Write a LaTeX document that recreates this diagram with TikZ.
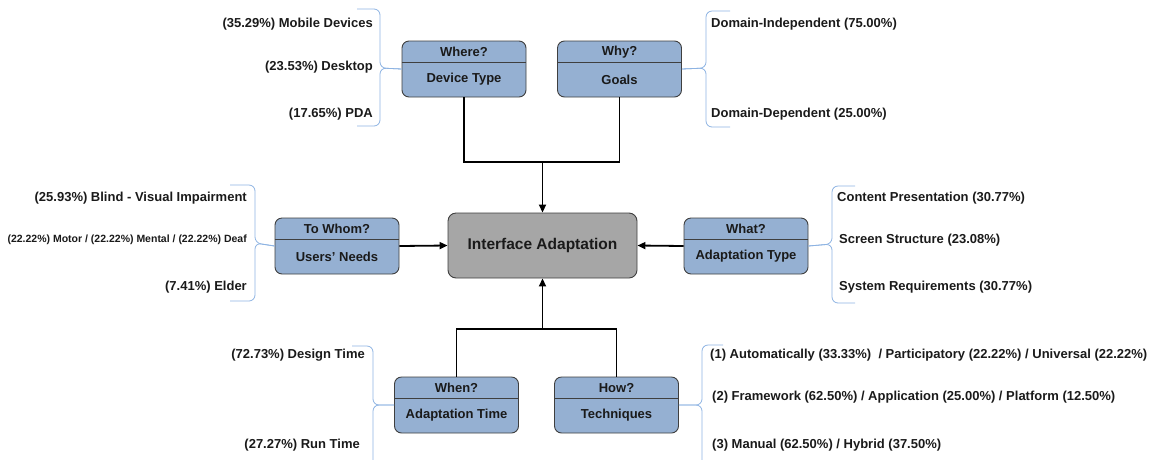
\documentclass[tikz,border=0pt]{standalone}
\usepackage{fontspec}
\setmainfont{Liberation Sans}
\usetikzlibrary{arrows.meta}
\definecolor{boxblue}{HTML}{95B0D2}
\definecolor{boxgray}{HTML}{A6A6A6}
\definecolor{bordergray}{HTML}{3F3F3F}
\definecolor{braceblue}{HTML}{8DB3E2}
\definecolor{txt}{HTML}{1A1A1A}
\tikzset{
  catbox/.style={draw=bordergray, line width=0.9pt, fill=boxblue, rounded corners=7pt,
    minimum width=124pt, minimum height=56pt, inner sep=0pt},
  centerbox/.style={draw=bordergray, line width=0.9pt, fill=boxgray, rounded corners=8pt,
    minimum width=189pt, minimum height=65pt, inner sep=0pt, font=\bfseries\fontsize{15.5}{18}\selectfont, text=txt},
  divider/.style={draw=bordergray, line width=1pt},
  boxtext/.style={font=\bfseries\fontsize{13}{15}\selectfont, text=txt, inner sep=0pt},
  lbl/.style={font=\bfseries\fontsize{13}{15}\selectfont, text=txt, inner sep=0pt},
  smalllbl/.style={font=\bfseries\fontsize{10.5}{12}\selectfont, text=txt, inner sep=0pt},
  conn/.style={draw=black, line width=1.8pt},
  arr/.style={conn, -{Triangle[length=8pt,width=7pt]}},
  bracel/.style={draw=braceblue, line width=0.8pt, rounded corners=6pt},
}
\newcommand\catbox[5]{%
  \node[catbox] (#1) at (#2,#3+28) {};
  \draw[divider] ([yshift=-22pt]#1.north west) -- ([yshift=-22pt]#1.north east);
  \node[boxtext] (#1-t) at ([yshift=-11.5pt]#1.north) {#4};
  \node[boxtext] (#1-s) at ([yshift=-39pt]#1.north) {#5};
}
\begin{document}
\begin{tikzpicture}[x=1pt,y=-1pt]
\useasboundingbox (0,0) rectangle (1151,459);
\clip (0,0) rectangle (1151,459);

% boxes
\node[centerbox] (ia) at (542.5,245.5) {Interface Adaptation};
\catbox{where}{464}{41}{Where?}{Device Type}
\catbox{why}{619.5}{41}{Why?}{Goals}
\catbox{whom}{337}{218}{To Whom?}{Users’ Needs}
\catbox{what}{746}{218}{What?}{Adaptation Type}
\catbox{when}{456.5}{377}{When?}{Adaptation Time}
\catbox{how}{616.5}{377}{How?}{Techniques}

% connectors
\coordinate (tj) at (542.5,162);
\coordinate (bj) at (542.5,329);
\draw[conn] (where.south) |- (tj) -| (why.south);
\draw[arr] (tj) -- (ia.north);
\draw[conn] (when.north) |- (bj) -| (how.north);
\draw[arr] (bj) -- (ia.south);
\draw[arr] (whom.east) -- (ia.west);
\draw[arr] (what.west) -- (ia.east);

% braces
\draw[bracel] (357,9) -- (380,9) -- (380,68) -- (where.west);
\draw[bracel] (357,126) -- (380,126) -- (380,68) -- (where.west);
\draw[bracel] (730,11) -- (706,11) -- (706,68) -- (why.east);
\draw[bracel] (730,127) -- (706,127) -- (706,68) -- (why.east);
\draw[bracel] (230,185) -- (255,185) -- (255,243) -- (whom.west);
\draw[bracel] (230,301) -- (255,301) -- (255,243) -- (whom.west);
\draw[bracel] (855,186) -- (832,186) -- (832,244) -- (what.east);
\draw[bracel] (855,303) -- (832,303) -- (832,244) -- (what.east);
\draw[bracel] (352,346) -- (373,346) -- (373,405) -- (when.west);
\draw[bracel] (352,470) -- (373,470) -- (373,405) -- (when.west);
\draw[bracel] (723,345) -- (702,345) -- (702,405) -- (how.east);
\draw[bracel] (723,470) -- (702,470) -- (702,405) -- (how.east);

% labels
\node[lbl, anchor=east] (w1) at (373,24) {(35.29\%) Mobile Devices};
\node[lbl, anchor=east] (w2) at (373,67) {(23.53\%) Desktop};
\node[lbl, anchor=east] (w3) at (373,114) {(17.65\%) PDA};
\node[lbl, anchor=west] (y1) at (711,24) {Domain-Independent (75.00\%)};
\node[lbl, anchor=west] (y2) at (711,114) {Domain-Dependent (25.00\%)};
\node[lbl, anchor=east] (u1) at (247,198) {(25.93\%) Blind - Visual Impairment};
\node[smalllbl, anchor=east] (u2) at (247,240) {(22.22\%) Motor / (22.22\%) Mental / (22.22\%) Deaf};
\node[lbl, anchor=east] (u3) at (247,287) {(7.41\%) Elder};
\node[lbl, anchor=west] (a1) at (837,198) {Content Presentation (30.77\%)};
\node[lbl, anchor=west] (a2) at (839,240) {Screen Structure (23.08\%)};
\node[lbl, anchor=west] (a3) at (839,287) {System Requirements (30.77\%)};
\node[lbl, anchor=east] (t1) at (365,355) {(72.73\%) Design Time};
\node[lbl, anchor=east] (t2) at (360,445) {(27.27\%) Run Time};
\node[lbl, anchor=west] (h1) at (710,355) {(1) Automatically (33.33\%)\ \ / Participatory (22.22\%) / Universal (22.22\%)};
\node[lbl, anchor=west] (h2) at (712,397) {(2) Framework (62.50\%) / Application (25.00\%) / Platform (12.50\%)};
\node[lbl, anchor=west] (h3) at (712,445) {(3) Manual (62.50\%) / Hybrid (37.50\%)};
\end{tikzpicture}
\end{document}
